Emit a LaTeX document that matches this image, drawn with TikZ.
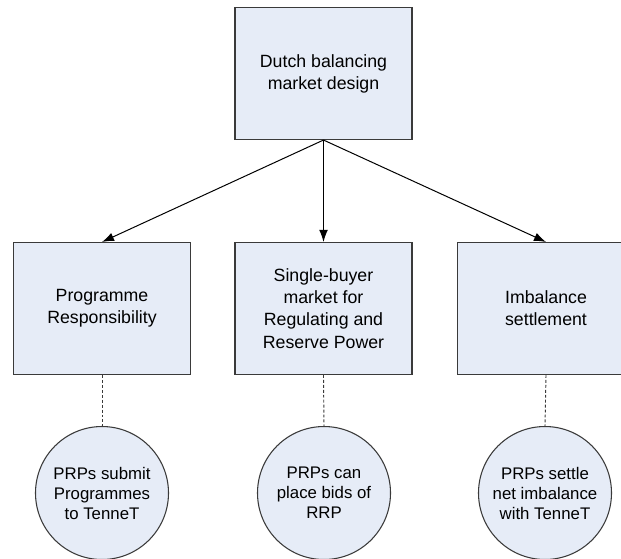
\documentclass[tikz,border=0pt]{standalone}
\usepackage{fontspec}
\setmainfont{Liberation Sans}
\usetikzlibrary{arrows.meta}
\definecolor{boxfill}{HTML}{E6ECF7}
\definecolor{boxline}{HTML}{3A3A3A}
\tikzset{
  mainbox/.style={draw=boxline, fill=boxfill, line width=0.8pt, minimum width=132.75pt, minimum height=99pt, align=center, font=\fontsize{13.3pt}{16.6pt}\selectfont, inner sep=0pt},
  leaf/.style={draw=boxline, fill=boxfill, line width=0.8pt, circle, minimum size=99.75pt, align=center, font=\fontsize{12.6pt}{15pt}\selectfont, inner sep=0pt},
  arr/.style={draw=black, line width=0.75pt, -{Latex[length=9pt,width=6.5pt]}},
  dashlink/.style={draw=boxline, line width=0.7pt, dash pattern=on 2.2pt off 1.5pt}
}
\begin{document}
\begin{tikzpicture}[x=0.75pt,y=-0.75pt]
\useasboundingbox (0,0) rectangle (621,558);
\clip (0,0) rectangle (621,558);
\node[mainbox] (top) at (323.5,73.5) {Dutch balancing\\market design};
\node[mainbox] (pr) at (102,308.5) {Programme\\Responsibility};
\node[mainbox] (sb) at (323.5,308.5) {Single-buyer\\market for\\Regulating and\\Reserve Power};
\node[mainbox] (is) at (546,308.5) {Imbalance\\settlement};
\node[leaf] (c1) at (102,493) {PRPs submit\\Programmes\\to TenneT};
\node[leaf] (c2) at (324,493) {PRPs can\\place bids of\\RRP};
\node[leaf] (c3) at (545,493) {PRPs settle\\net imbalance\\with TenneT};
\draw[arr] (top.south) -- (pr.north);
\draw[arr] (top.south) -- (sb.north);
\draw[arr] (top.south) -- (is.north);
\draw[dashlink] (pr.south) -- (c1.north);
\draw[dashlink] (sb.south) -- (c2.north);
\draw[dashlink] (is.south) -- (c3.north);
\end{tikzpicture}
\end{document}
